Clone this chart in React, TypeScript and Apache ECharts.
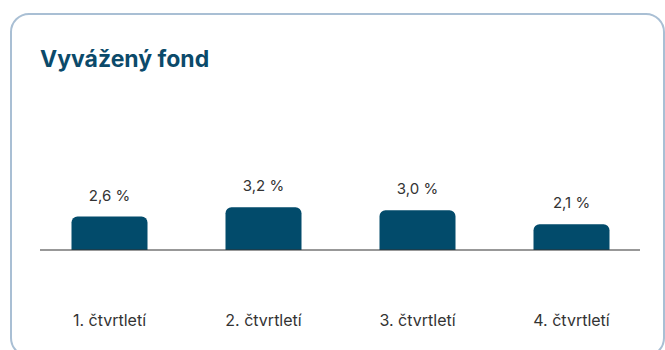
import React, { useEffect, useRef } from "react";
import * as echarts from "echarts";

const categories = ["1. čtvrtletí", "2. čtvrtletí", "3. čtvrtletí", "4. čtvrtletí"];
const values = [2.6, 3.2, 3.0, 2.1];
const labels = ["2,6 %", "3,2 %", "3,0 %", "2,1 %"];
const titleText = "Vyvážený fond";

export default function App() {
  const ref = useRef<HTMLDivElement>(null);
  useEffect(() => {
    if (!ref.current) return;
    const chart = echarts.init(ref.current, undefined, { renderer: "svg" });
    chart.setOption({
      animation: false,
      backgroundColor: "#ffffff",
      textStyle: { fontFamily: "Inter" },
      title: {
        text: titleText,
        left: 40,
        top: 47,
        padding: 0,
        textStyle: { fontFamily: "Inter", fontSize: 23, fontWeight: 700, color: "#0b4a6a" },
      },
      graphic: [
        {
          type: "rect",
          shape: { x: 11, y: 14, width: 653, height: 342, r: 18 },
          style: { fill: "none", stroke: "#a9bfd4", lineWidth: 2 },
          silent: true,
          z: -1,
        },
        {
          type: "line",
          shape: { x1: 40, y1: 250, x2: 640, y2: 250 },
          style: { stroke: "#333333", lineWidth: 1.2 },
          silent: true,
          z: 10,
        },
      ],
      grid: { left: 32.5, right: 16.5, top: 194, bottom: 100, containLabel: false },
      xAxis: {
        type: "category",
        data: categories,
        axisLine: { show: false },
        axisTick: { show: false },
        axisLabel: { margin: 62, fontSize: 16, color: "#333333", fontFamily: "Inter" },
      },
      yAxis: {
        type: "value",
        min: 0.45,
        max: 4.05,
        show: false,
        splitLine: { show: false },
      },
      series: [
        {
          type: "bar",
          data: values,
          barWidth: 76,
          itemStyle: { color: "#024b6b", borderRadius: [6, 6, 0, 0] },
          label: {
            show: true,
            position: "top",
            distance: 14,
            fontSize: 15,
            color: "#333333",
            fontFamily: "Inter",
            formatter: (p: any) => labels[p.dataIndex],
          },
        },
      ],
    });
    return () => chart.dispose();
  }, []);
  return (
    <div
      ref={ref}
      style={{ position: "absolute", left: 0, top: 0, width: 665, height: 350 }}
    />
  );
}
